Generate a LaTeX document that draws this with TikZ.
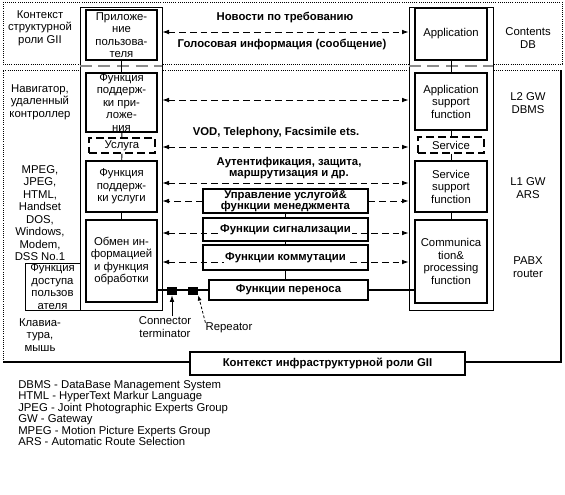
\documentclass[tikz,border=0pt]{standalone}
\usepackage{fontspec}
\setmainfont{Liberation Sans}
\usetikzlibrary{positioning,arrows.meta}
\newcommand\picfont{\fontsize{8.5}{9.4}\selectfont}
\tikzset{
  wh/.style 2 args={minimum width=#1*0.75pt,minimum height=#2*0.75pt},
  frm/.style={rectangle,draw=black,fill=white,line width=0.5pt,inner sep=0pt},
  blk/.style={rectangle,draw=black,fill=white,line width=0.8pt,align=center,inner sep=0pt},
  dblk/.style={blk,dash pattern=on 6pt off 3pt},
  mid/.style={rectangle,draw=black,line width=0.8pt,align=center,inner sep=0pt,font=\picfont\bfseries},
  ctx/.style={densely dotted,line width=0.6pt},
  txt/.style={align=center,inner sep=0pt},
  msg/.style={align=center,inner sep=0pt,font=\picfont\bfseries},
  dbl/.style={{Latex[length=5pt,width=3.5pt]}-{Latex[length=5pt,width=3.5pt]},dash pattern=on 5pt off 3pt,line width=0.7pt},
  one/.style={-{Latex[length=5pt,width=3.5pt]},dash pattern=on 5pt off 3pt,line width=0.7pt},
  lnk/.style={line width=0.6pt},
  sep/.style={draw=black!45,line width=1.5pt,dash pattern=on 9pt off 5pt},
  jack/.style={rectangle,fill=black,minimum width=7.5pt,minimum height=6pt,inner sep=0pt},
}

\begin{document}
\begin{tikzpicture}[x=0.75pt,y=-0.75pt,font=\picfont]
  \useasboundingbox (0,0) rectangle (565,494);
  % contexts
  \draw[ctx] (3,2) rectangle (562,64);
  \draw[ctx] (3,362) -- (3,70) -- (561,70);
  \draw[line width=1pt] (3,362) -- (561,362) -- (561,70);

  % user side and server side frames
  \node[frm,wh={82}{303}] (lfrm) at (121,158.5) {};
  \node[frm,wh={84}{303}] (rfrm) at (451,158.5) {};
  \draw[sep] (lfrm.west |- 0,66) -- (lfrm.east |- 0,66);
  \draw[sep] (rfrm.west |- 0,66) -- (rfrm.east |- 0,66);

  % user side
  \node[blk,wh={71}{50}] (usrapp) at (121.5,35) {Приложе-\\ние\\пользова-\\теля};
  \node[blk,wh={71}{59}] (appsup) at (121.5,102.5) {Функция\\поддерж-\\ки при-\\ложе-\\ния};
  \node[dblk,wh={66}{15}] (usl) at (122,145.5) {Услуга};
  \node[blk,wh={71}{51}] (svcsup) at (121.5,186.5) {Функция\\поддерж-\\ки услуги};
  \node[blk,wh={71}{82}] (xchg) at (121.5,261) {Обмен ин-\\формацией\\и функция\\обработки};
  \node[blk,line width=0.6pt,wh={55}{47}] (access) at (52.5,286.5) {Функция\\доступа\\пользов\\ателя};
  \draw[lnk] (usrapp) -- (appsup);
  \draw[lnk] (appsup) -- (usl);
  \draw[lnk] (usl) -- (svcsup);
  \draw[lnk] (svcsup) -- (xchg);

  % server side
  \node[blk,wh={72}{52}] (srvapp) at (451,34) {Application};
  \node[blk,wh={72}{57}] (srvappsup) at (451,101.5) {Application\\support\\function};
  \node[dblk,wh={66}{16}] (srvsvc) at (451,145) {Service};
  \node[blk,wh={72}{51}] (srvsvcsup) at (451,186.5) {Service\\support\\function};
  \node[blk,wh={72}{83}] (comm) at (451,261.5) {Communica\\tion\&\\processing\\function};
  \draw[lnk] (srvapp) -- (srvappsup);
  \draw[lnk] (srvappsup) -- (srvsvc);
  \draw[lnk] (srvsvc) -- (srvsvcsup);
  \draw[lnk] (srvsvcsup) -- (comm);

  % flows
  \coordinate (r1) at (285,32);
  \coordinate (r2) at (285,100);
  \coordinate (r3) at (285,147);
  \coordinate (r4) at (285,183);
  \coordinate (r5) at (285,233);
  \coordinate (r6) at (285,262);
  \node[msg] (news) at (285,18) {Новости по требованию};
  \node[msg] (voice) at (282,45) {Голосовая информация (сообщение)};
  \node[msg] (vod) at (276,133) {VOD, Telephony, Facsimile ets.};
  \node[msg,font=\fontsize{8.5}{8.2}\selectfont\bfseries] (auth) at (289,168) {Аутентификация, защита,\\маршрутизация и др.};
  \draw[dbl] (lfrm.east |- r1) -- (rfrm.west |- r1);
  \draw[dbl] (lfrm.east |- r2) -- (rfrm.west |- r2);
  \draw[dbl] (lfrm.east |- r3) -- (rfrm.west |- r3);
  \draw[dbl] (lfrm.east |- r4) -- (rfrm.west |- r4);

  \node[mid,wh={165}{24},font=\fontsize{8.5}{8.4}\selectfont\bfseries] (mgmt) at (285.5,201) {Управление услугой\&\\функции менеджмента};
  \node[mid,wh={165}{23}] (sig) at (285.5,229.5) {};
  \node[mid,wh={165}{25}] (sw) at (285.5,257.5) {};
  \node[mid,wh={159}{20}] (xfer) at (288.5,290) {Функции переноса};
  \draw[one] (mgmt.west) -- (lfrm.east |- mgmt.west);
  \draw[one] (mgmt.east) -- (rfrm.west |- mgmt.east);
  \draw[dbl] (lfrm.east |- r5) -- (rfrm.west |- r5);
  \draw[dbl] (lfrm.east |- r6) -- (rfrm.west |- r6);
  \node[msg,fill=white,inner sep=1pt] (sigt) at (sig) {Функции сигнализации};
  \node[msg,fill=white,inner sep=1pt] (swt) at (sw) {Функции коммутации};
  \draw[lnk] (mgmt) -- (sig);
  \draw[lnk] (sig) -- (sw);
  \draw[lnk] (sw.south) -- (sw.south |- xfer.north);

  % transfer path
  \draw[line width=1pt] (xchg.east |- xfer) -- (xfer.west);
  \draw[line width=1pt] (xfer.east) -- (comm.west |- xfer);
  \node[jack] (term) at (172,291) {};
  \node[jack] (rep) at (193,291) {};
  \node[txt] (conn) at (165,327) {Connector\\terminator};
  \node[txt] (rept) at (229,328) {Repeator};
  \draw[lnk,-{Latex[length=5pt,width=3.5pt]}] (conn.north -| term) -- (term.south);
  \draw[lnk,-{Latex[length=4pt,width=3pt]},dash pattern=on 2pt off 1.5pt] (rept.north west) -- (rep.south east);

  % side labels
  \node[txt] (ctxs) at (40,28) {Контекст\\структурной\\роли GII};
  \node[txt] (nav) at (40,102) {Навигатор,\\удаленный\\контроллер};
  \node[txt] (fmt) at (40,188) {MPEG,\\JPEG,\\HTML,\\Handset};
  \node[txt] (os) at (40,238) {DOS,\\Windows,\\Modem,\\DSS No.1};
  \node[txt] (kbd) at (40,335) {Клавиа-\\тура,\\мышь};
  \node[txt] (cdb) at (528,38) {Contents\\DB};
  \node[txt] (l2) at (528,103) {L2 GW\\DBMS};
  \node[txt] (l1) at (528,188) {L1 GW\\ARS};
  \node[txt] (pabx) at (528,267) {PABX\\router};

  % infrastructure role
  \node[mid,line width=1pt,fill=white,wh={275}{23}] (ctxinfra) at (327.5,363.5) {Контекст инфраструктурной роли GII};

  % legend
  \node[txt,align=left,anchor=north west,font=\fontsize{8.5}{8.6}\selectfont] (legend) at (18,380) {DBMS - DataBase Management System\\HTML - HyperText Markur Language\\JPEG - Joint Photographic Experts Group\\GW - Gateway\\MPEG - Motion Picture Experts Group\\ARS - Automatic Route Selection};
\end{tikzpicture}
\end{document}
